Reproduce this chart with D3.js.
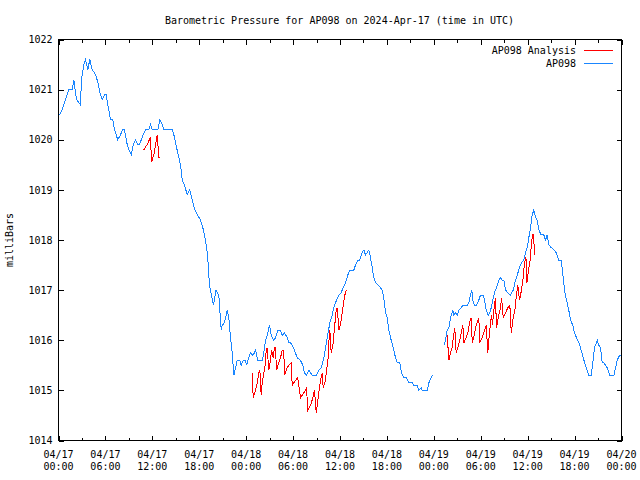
<!DOCTYPE html>
<html><head><meta charset="utf-8">
<script src="https://cdn.jsdelivr.net/npm/d3@7"></script>
<style>
body{margin:0;background:#fff}
svg{display:block}
text{font-family:"DejaVu Sans Mono","Liberation Mono",monospace;font-size:10px;fill:#000}
</style>
</head><body>
<svg id="chart" width="640" height="480"></svg>
<script>
// ---------------- DATA ----------------
const titleText = "Barometric Pressure for AP098 on 2024-Apr-17 (time in UTC)";
const yLabelText = "milliBars";
const seriesNames = ["AP098 Analysis", "AP098"];
const yTickValues = [1014,1015,1016,1017,1018,1019,1020,1021,1022];
const xMajorHours = [0,6,12,18,24,30,36,42,48,54,60,66,72];
const xMinorHours = [3,9,15,21,27,33,39,45,51,57,63,69];

// AP098 observed (hours since 2024-04-17 00:00 UTC); null = no data
const obsHours = [0.13,0.47,0.9,1.32,1.75,1.96,2.3,2.81,2.94,3.24,3.45,3.75,4.0,4.31,4.73,5.03,5.28,5.59,5.88,6.1,6.36,6.65,6.94,7.16,7.58,7.93,8.19,8.44,8.79,8.99,9.3,9.55,9.85,10.14,10.36,10.7,11.13,11.55,11.77,11.98,12.7,12.96,13.26,13.47,14.54,14.75,15.09,15.39,15.6,15.82,16.11,16.46,16.79,17.1,17.43,17.78,18.16,18.54,18.8,19.06,19.31,19.57,19.82,20.14,20.5,20.81,20.94,21.23,21.58,21.78,22.0,22.21,22.42,22.64,22.85,23.19,23.37,23.62,23.92,24.04,24.34,24.56,24.77,25.07,25.2,25.49,26.05,26.26,26.47,26.69,26.99,27.2,27.54,27.75,28.05,28.39,28.61,28.9,29.25,29.45,29.67,29.89,30.18,30.53,30.95,31.24,31.46,31.72,32.01,32.45,33.0,33.29,33.6,33.93,34.15,34.37,34.7,35.0,35.21,35.55,35.85,36.15,36.41,36.71,37.0,37.26,37.77,37.98,38.28,38.53,38.84,39.05,39.26,39.48,39.69,39.9,40.12,40.32,40.54,40.84,41.18,41.4,41.6,41.82,42.04,42.24,42.55,42.81,43.1,43.32,43.65,43.87,44.16,44.51,44.8,45.24,45.44,45.88,46.08,46.39,46.51,47.15,47.36,47.79,
  48.5,
  49.28,49.49,49.71,49.92,50.13,50.43,50.56,50.77,50.99,51.2,51.5,51.76,52.27,52.48,52.69,52.86,53.04,53.2,53.46,53.75,53.97,54.32,54.48,54.7,54.96,55.16,55.34,55.54,55.76,56.02,56.31,56.53,56.75,56.95,57.17,57.46,57.81,58.15,58.45,58.66,58.96,59.21,59.51,59.73,59.94,60.15,60.37,60.58,60.79,61.0,61.22,61.43,61.73,62.07,62.28,62.5,62.71,63.01,63.35,63.65,63.99,64.29,64.55,64.71,64.97,65.26,65.48,65.77,65.99,66.25,66.54,66.76,67.1,67.4,67.82,68.13,68.33,68.55,68.9,69.1,69.32,69.54,69.74,70.17,70.51,71.02,71.24,71.45,71.75,71.94];
const obsValues = [1020.5,1020.6,1020.8,1021.0,1021.0,1021.2,1020.8,1020.7,1021.2,1021.5,1021.6,1021.4,1021.6,1021.4,1021.3,1021.15,1020.95,1020.8,1020.9,1020.9,1020.65,1020.4,1020.4,1020.2,1020.0,1020.1,1020.2,1020.2,1019.9,1019.8,1019.7,1019.9,1020.0,1019.9,1019.9,1020.05,1020.2,1020.2,1020.3,1020.2,1020.2,1020.4,1020.3,1020.2,1020.2,1020.1,1019.85,1019.65,1019.5,1019.2,1019.1,1018.9,1019.0,1018.8,1018.6,1018.5,1018.4,1018.2,1018.0,1017.7,1017.1,1016.9,1016.7,1017.0,1016.9,1016.2,1016.3,1016.35,1016.6,1016.45,1016.05,1015.75,1015.3,1015.45,1015.6,1015.6,1015.5,1015.6,1015.6,1015.5,1015.65,1015.75,1015.7,1015.75,1015.8,1015.6,1015.6,1015.75,1016.0,1016.1,1016.3,1016.1,1016.0,1016.05,1016.2,1016.2,1016.1,1016.15,1016.05,1015.95,1015.95,1015.9,1015.8,1015.65,1015.6,1015.5,1015.35,1015.3,1015.4,1015.3,1015.3,1015.4,1015.45,1015.65,1015.85,1016.05,1016.35,1016.5,1016.65,1016.8,1016.9,1016.95,1017.05,1017.15,1017.3,1017.4,1017.4,1017.5,1017.6,1017.6,1017.75,1017.8,1017.7,1017.75,1017.8,1017.65,1017.45,1017.25,1017.15,1017.1,1017.05,1017.0,1016.85,1016.55,1016.45,1016.2,1016.0,1015.85,1015.65,1015.55,1015.55,1015.35,1015.25,1015.25,1015.15,1015.15,1015.1,1015.1,1015.0,1015.05,1015.0,1015.0,1015.15,1015.3,
  null,
  1015.9,1016.0,1016.2,1016.25,1016.45,1016.6,1016.5,1016.55,1016.5,1016.6,1016.65,1016.7,1016.7,1016.75,1016.9,1017.0,1016.75,1016.7,1016.7,1016.8,1016.9,1016.9,1016.8,1016.6,1016.5,1016.55,1016.65,1016.8,1016.95,1017.05,1017.2,1017.25,1017.2,1017.2,1017.0,1016.95,1016.9,1017.0,1017.2,1017.3,1017.45,1017.55,1017.6,1017.75,1017.85,1018.05,1018.25,1018.5,1018.6,1018.45,1018.4,1018.2,1018.1,1018.1,1018.0,1018.1,1017.9,1017.85,1017.8,1017.75,1017.6,1017.6,1017.25,1017.0,1016.8,1016.6,1016.4,1016.3,1016.15,1016.05,1015.95,1015.85,1015.65,1015.5,1015.3,1015.3,1015.55,1015.85,1016.0,1015.9,1015.85,1015.55,1015.55,1015.45,1015.3,1015.3,1015.45,1015.6,1015.7,1015.7];

// AP098 Analysis (hours since 2024-04-17 00:00 UTC); null = break
const anaHours = [10.91,11.32,11.77,11.89,12.19,12.62,12.83,12.96,
  18.0,
  24.77,24.9,25.2,25.41,25.62,25.75,25.92,26.05,26.26,26.39,26.56,26.69,26.89,27.11,27.24,27.46,27.62,27.75,27.88,28.17,28.39,28.61,28.81,28.9,29.25,29.45,29.76,29.89,30.31,30.6,30.95,31.37,31.72,31.88,32.23,32.52,32.74,32.96,33.16,33.51,33.72,33.85,34.15,34.27,34.44,34.57,34.7,34.87,35.13,35.3,35.51,35.64,35.88,36.15,36.41,36.62,36.79,
  42.0,
  49.71,49.92,50.13,50.35,50.48,50.68,50.86,51.07,51.32,51.5,51.71,51.84,52.14,52.35,52.56,52.78,52.91,53.11,53.33,53.55,53.75,53.88,54.19,54.4,54.7,54.9,55.03,55.25,55.38,55.5,55.67,55.88,56.02,56.23,56.53,56.66,56.87,57.17,57.46,57.72,57.9,58.15,58.36,58.57,58.74,58.96,59.21,59.39,59.6,59.78,59.91,60.11,60.33,60.46,60.62,60.75,60.88];
const anaValues = [1019.8,1019.9,1020.05,1019.55,1019.7,1020.1,1019.65,1019.65,
  null,
  1015.35,1014.85,1015.0,1015.15,1015.35,1015.4,1014.9,1015.15,1015.35,1015.45,1015.8,1015.85,1015.4,1015.6,1015.8,1015.65,1015.85,1015.85,1015.4,1015.55,1015.65,1015.8,1015.8,1015.3,1015.45,1015.5,1015.55,1015.1,1015.2,1015.25,1014.85,1014.95,1015.05,1014.6,1014.7,1014.85,1015.0,1014.55,1014.8,1015.2,1015.35,1015.05,1015.2,1015.4,1015.55,1015.95,1016.2,1015.75,1015.95,1016.25,1016.6,1016.65,1016.2,1016.4,1016.7,1016.9,1017.0,
  null,
  1016.1,1015.6,1015.75,1015.85,1016.05,1016.25,1015.75,1015.85,1016.0,1016.15,1016.3,1015.95,1016.05,1016.15,1016.35,1016.45,1015.95,1016.05,1016.25,1016.35,1016.45,1015.95,1016.05,1016.15,1016.3,1015.75,1016.0,1016.35,1016.5,1016.3,1016.6,1016.85,1016.25,1016.45,1016.65,1016.85,1016.45,1016.55,1016.65,1016.7,1016.15,1016.45,1016.6,1016.9,1017.1,1016.8,1017.0,1017.2,1017.55,1017.65,1017.15,1017.4,1017.6,1017.9,1018.1,1018.1,1017.7];

const colorAnalysis = "#ff0000";
const colorObs = "#1a86ff";

// ---------------- CHART ----------------
const startMs = Date.UTC(2024,3,17,0,0,0);
const toDate = h => new Date(startMs + h*3600000);

const svg = d3.select("#chart");
const L = 58.5, R = 621.5, T = 39.5, B = 440.5;

const x = d3.scaleUtc().domain([toDate(0), toDate(72)]).range([L, R]);
const y = d3.scaleLinear().domain([1014, 1022]).range([B, T]);

const fmtDate = d3.utcFormat("%m/%d");
const fmtTime = d3.utcFormat("%H:%M");
const majorDates = xMajorHours.map(toDate);
const minorDates = xMinorHours.map(toDate);

function styleAxis(g){
  g.select(".domain").remove();
  g.selectAll(".tick line").attr("stroke","#000").attr("shape-rendering","crispEdges");
}

// bottom axis: major + minor ticks inward
svg.append("g").attr("transform",`translate(0,${B})`)
  .call(d3.axisBottom(x).tickValues(majorDates).tickSizeInner(-5).tickSizeOuter(0).tickFormat(""))
  .call(styleAxis).call(g=>g.selectAll("text").remove());
svg.append("g").attr("transform",`translate(0,${B})`)
  .call(d3.axisBottom(x).tickValues(minorDates).tickSizeInner(-3).tickSizeOuter(0).tickFormat(""))
  .call(styleAxis).call(g=>g.selectAll("text").remove());
// top mirror ticks
svg.append("g").attr("transform",`translate(0,${T})`)
  .call(d3.axisTop(x).tickValues(majorDates).tickSizeInner(-5).tickSizeOuter(0).tickFormat(""))
  .call(styleAxis).call(g=>g.selectAll("text").remove());
svg.append("g").attr("transform",`translate(0,${T})`)
  .call(d3.axisTop(x).tickValues(minorDates).tickSizeInner(-3).tickSizeOuter(0).tickFormat(""))
  .call(styleAxis).call(g=>g.selectAll("text").remove());
// left axis with labels
svg.append("g").attr("transform",`translate(${L},0)`)
  .call(d3.axisLeft(y).tickValues(yTickValues).tickSizeInner(-5).tickSizeOuter(0).tickPadding(6).tickFormat(d3.format("d")))
  .call(styleAxis)
  .call(g=>g.selectAll("text").attr("fill","#000").attr("font-family",null).attr("font-size",null));
// right mirror ticks
svg.append("g").attr("transform",`translate(${R},0)`)
  .call(d3.axisRight(y).tickValues(yTickValues).tickSizeInner(-5).tickSizeOuter(0).tickFormat(""))
  .call(styleAxis).call(g=>g.selectAll("text").remove());

// x tick labels (two lines)
const xl = svg.append("g");
majorDates.forEach(d=>{
  const t = xl.append("text").attr("text-anchor","middle");
  t.append("tspan").attr("x", x(d)).attr("y", 458).text(fmtDate(d));
  t.append("tspan").attr("x", x(d)).attr("y", 470).text(fmtTime(d));
});

// frame
svg.append("rect").attr("x",L).attr("y",T).attr("width",R-L).attr("height",B-T)
  .attr("fill","none").attr("stroke","#000").attr("shape-rendering","crispEdges");

// lines
const line = d3.line()
  .defined(d => d.v !== null)
  .x(d => x(toDate(d.h)))
  .y(d => y(d.v));

const obsData = obsHours.map((h,i)=>({h, v: obsValues[i]}));
const anaData = anaHours.map((h,i)=>({h, v: anaValues[i]}));

svg.append("path").datum(obsData).attr("d", line)
  .attr("fill","none").attr("stroke",colorObs).attr("stroke-width",1)
  .attr("shape-rendering","crispEdges");
svg.append("path").datum(anaData).attr("d", line)
  .attr("fill","none").attr("stroke",colorAnalysis).attr("stroke-width",1)
  .attr("shape-rendering","crispEdges");

// title
svg.append("text").attr("x", 339.5).attr("y", 24).attr("text-anchor","middle").text(titleText);
// y label
svg.append("text").attr("transform","translate(13,240) rotate(-90)")
  .attr("text-anchor","middle").text(yLabelText);

// legend
const legColors = [colorAnalysis, colorObs];
seriesNames.forEach((name,i)=>{
  const ly = 50.5 + i*13;
  svg.append("text").attr("x", 576).attr("y", ly+3.5).attr("text-anchor","end").text(name);
  svg.append("line").attr("x1",584).attr("x2",613).attr("y1",ly).attr("y2",ly)
    .attr("stroke",legColors[i]).attr("stroke-width",1).attr("shape-rendering","crispEdges");
});
</script>
</body></html>
